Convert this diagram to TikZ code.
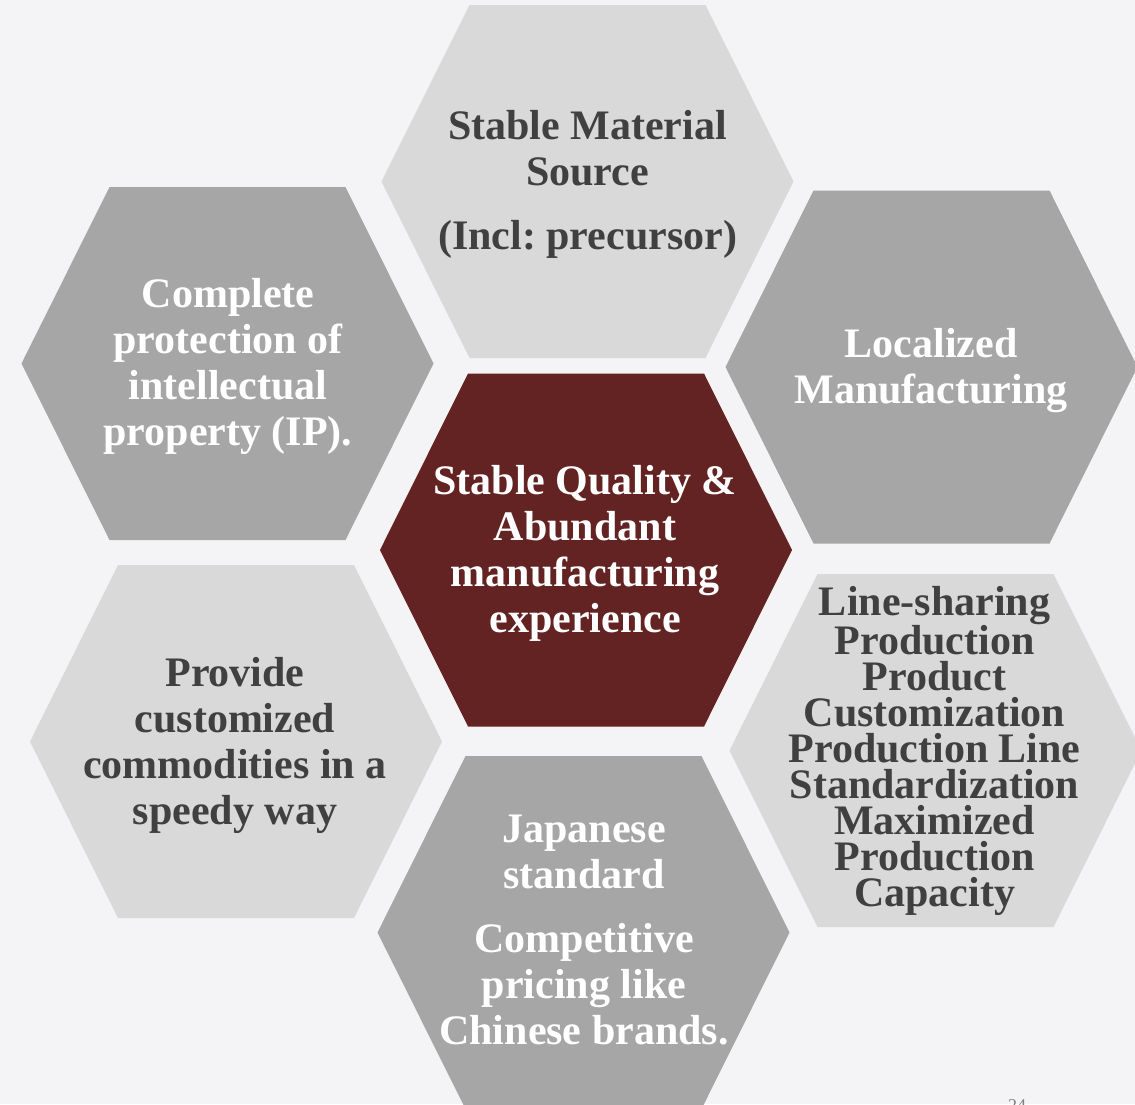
\documentclass[tikz,border=0pt]{standalone}
\usepackage{fontspec}
\setmainfont{Liberation Serif}
\frenchspacing
\definecolor{bgcol}{HTML}{F4F4F6}
\definecolor{darkhex}{HTML}{A6A6A6}
\definecolor{lighthex}{HTML}{D9D9D9}
\definecolor{redhex}{HTML}{632323}
\definecolor{darktext}{HTML}{404040}
\newcommand{\hexshape}[3]{%
  \fill[#3] (#1-206,#2) -- (#1-118,#2-176.5) -- (#1+118,#2-176.5) -- (#1+206,#2)
    -- (#1+118,#2+176.5) -- (#1-118,#2+176.5) -- cycle;}
\tikzset{
  hextext/.style={align=center, inner sep=0pt, font=\fontsize{42}{46}\selectfont\bfseries\frenchspacing},
  whitetext/.style={hextext, text=white},
  greytext/.style={hextext, text=darktext},
  tighttext/.style={greytext, font=\fontsize{42}{36}\selectfont\bfseries\frenchspacing},
}
\begin{document}
\begin{tikzpicture}[x=1pt,y=-1pt]
\useasboundingbox (0,0) rectangle (1135,1104);
\fill[bgcol] (0,0) rectangle (1135,1104);
% hexagons
\hexshape{587.5}{181.5}{lighthex}
\hexshape{227.5}{363.5}{darkhex}
\hexshape{931.5}{367}{darkhex}
\hexshape{586}{550}{redhex}
\hexshape{236}{741.5}{lighthex}
\hexshape{935.5}{750.5}{lighthex}
\hexshape{583.5}{932.5}{darkhex}
% texts
\node[greytext] (top) at (587.5,184) {Stable Material\\Source\\[18pt](Incl: precursor)};
\node[whitetext] (tl) at (228,366) {Complete\\protection of\\intellectual\\property (IP).};
\node[whitetext] (rt) at (931,371) {Localized\\Manufacturing};
\node[whitetext] (center) at (585,553) {Stable Quality \&\\Abundant\\manufacturing\\experience};
\node[greytext] (lb) at (235,745) {Provide\\customized\\commodities in a\\speedy way};
\node[tighttext] (rb) at (934.5,751) {Line-sharing\\Production\\Product\\Customization\\Production Line\\Standardization\\Maximized\\Production\\Capacity};
\node[whitetext] (bottom) at (584,930) {Japanese\\standard\\[18pt]Competitive\\pricing like\\Chinese brands.};
\node[text=gray, font=\fontsize{18}{20}\selectfont, inner sep=0pt] (page) at (1017,1106) {24};
\end{tikzpicture}
\end{document}
